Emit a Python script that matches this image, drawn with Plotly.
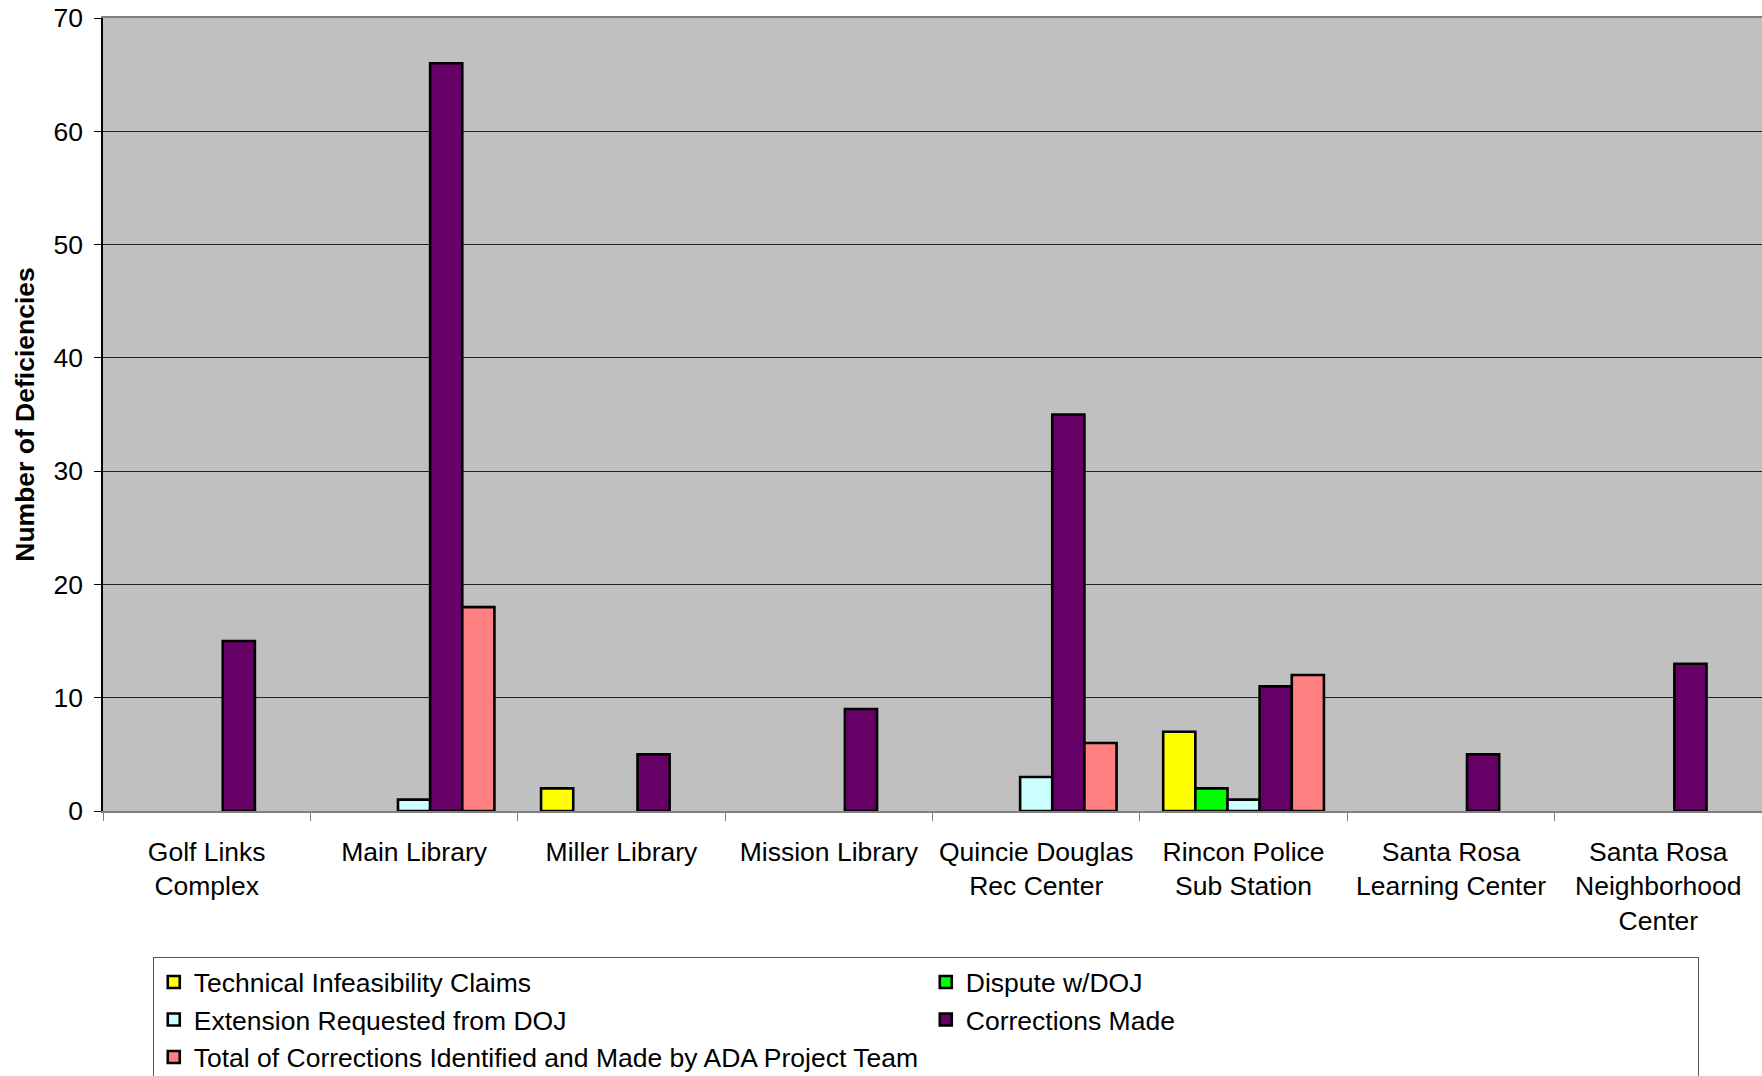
import plotly.graph_objects as go

# Facilities surveyed
categories = [
    "Golf Links<br>Complex",
    "Main Library",
    "Miller Library",
    "Mission Library",
    "Quincie Douglas<br>Rec Center",
    "Rincon Police<br>Sub Station",
    "Santa Rosa<br>Learning Center",
    "Santa Rosa<br>Neighborhood<br>Center",
]

# Deficiency counts per facility, one list per series
technical_infeasibility = [0, 0, 2, 0, 0, 7, 0, 0]
dispute_doj = [0, 0, 0, 0, 0, 2, 0, 0]
extension_requested = [0, 1, 0, 0, 3, 1, 0, 0]
corrections_made = [15, 66, 5, 9, 35, 11, 5, 13]
total_ada_team = [0, 18, 0, 0, 6, 12, 0, 0]

y_ticks = [0, 10, 20, 30, 40, 50, 60, 70]

series = [
    ("Technical Infeasibility Claims", technical_infeasibility, "#FFFF00"),
    ("Dispute w/DOJ", dispute_doj, "#00FF00"),
    ("Extension Requested from DOJ", extension_requested, "#CCFFFF"),
    ("Corrections Made", corrections_made, "#660066"),
    ("Total of Corrections Identified and Made by ADA Project Team", total_ada_team, "#FF8080"),
]

FONT = "Liberation Sans, Arial, sans-serif"

fig = go.Figure()
for name, values, color in series:
    fig.add_trace(go.Bar(
        name=name,
        x=categories,
        # empty counts are left blank so no flat outline is drawn at zero
        y=[v if v else None for v in values],
        marker=dict(color=color, line=dict(color="black", width=2.6)),
    ))

fig.update_layout(
    width=1762,
    height=1076,
    barmode="group",
    bargap=0.225,
    bargroupgap=0,
    plot_bgcolor="#C0C0C0",
    paper_bgcolor="white",
    font=dict(family=FONT, size=26, color="black"),
    margin=dict(l=103, r=0, t=18, b=265, autoexpand=False),
    showlegend=True,
    legend=dict(
        orientation="h",
        x=0.030,
        xanchor="left",
        y=-0.1845,
        yanchor="top",
        bgcolor="white",
        bordercolor="#555555",
        borderwidth=1,
        entrywidth=727,
        traceorder="normal",
        font=dict(family=FONT, size=26.5, color="black"),
    ),
)

fig.update_xaxes(
    showline=True,
    linecolor="#808080",
    linewidth=2,
    mirror=True,
    ticks="outside",
    tickson="boundaries",
    ticklen=8,
    tickcolor="#808080",
    tickwidth=1,
    showgrid=False,
    tickfont=dict(family=FONT, size=26.5, color="black"),
    ticklabelstandoff=16,
)

fig.update_yaxes(
    range=[0, 70],
    tickvals=y_ticks,
    showline=True,
    linecolor="black",
    linewidth=1.5,
    ticks="outside",
    ticklen=7,
    tickcolor="black",
    showgrid=True,
    gridcolor="#222222",
    gridwidth=1,
    zeroline=False,
    tickfont=dict(family=FONT, size=26.5, color="black"),
    ticklabelstandoff=6,
    title=dict(
        text="<b>Number of Deficiencies</b>",
        font=dict(family=FONT, size=26.5, color="black"),
        standoff=11,
    ),
    automargin=False,
)

fig.write_html("out.html")
